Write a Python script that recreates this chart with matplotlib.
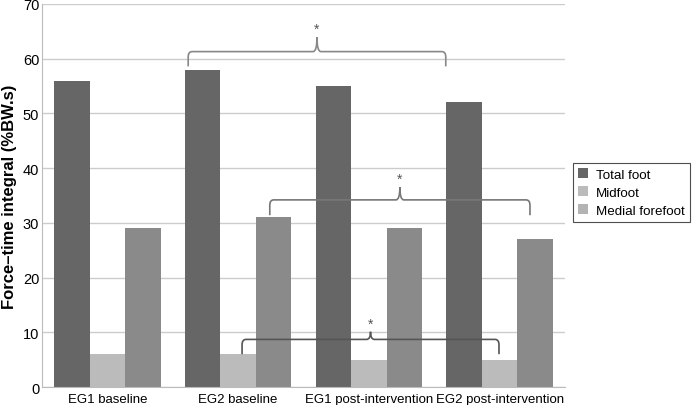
import matplotlib
matplotlib.use("Agg")
import matplotlib.pyplot as plt
from matplotlib.path import Path
from matplotlib.patches import PathPatch, Patch
import numpy as np

plt.rcParams["font.family"] = ["Liberation Sans", "DejaVu Sans"]

categories = ["EG1 baseline", "EG2 baseline", "EG1 post-intervention", "EG2 post-intervention"]
series_names = ["Total foot", "Midfoot", "Medial forefoot"]
total_foot = [56, 58, 55, 52]
midfoot = [6, 6, 5, 5]
medial_forefoot = [29, 31, 29, 27]
yticks = [0, 10, 20, 30, 40, 50, 60, 70]

bar_colors = ["#666666", "#bbbbbb", "#8a8a8a"]
legend_colors = ["#666666", "#bbbbbb", "#b3b3b3"]

fig = plt.figure(figsize=(6.92, 4.06), dpi=100)
ax = fig.add_axes([0.0607, 0.0443, 0.7558, 0.9434])

x = np.arange(len(categories))
w = 0.272
series = [total_foot, midfoot, medial_forefoot]
for i, (vals, c) in enumerate(zip(series, bar_colors)):
    ax.bar(x + (i - 1) * w, vals, width=w, color=c, edgecolor="none", zorder=2)

ax.set_xlim(-0.5, 3.5)
ax.set_ylim(0, 70)
ax.set_yticks(yticks)
ax.set_xticks(x)
ax.set_xticklabels(categories, fontsize=9.5)
ax.tick_params(axis="both", length=0)
ax.tick_params(axis="y", labelsize=10.5, pad=2)
ax.tick_params(axis="x", pad=4)
ax.yaxis.grid(True, color="#cccccc", linewidth=1.0, zorder=0)
ax.set_axisbelow(True)
for s in ["top", "right"]:
    ax.spines[s].set_visible(False)
ax.spines["left"].set_color("#bbbbbb")
ax.spines["bottom"].set_color("#bbbbbb")
ax.set_ylabel("Force–time integral (%BW.s)", fontsize=12, fontweight="bold")
ax.yaxis.set_label_coords(-0.047, 0.5)


def brace(x1, x2, y_low, y_h, bump, color, rx=0.03, ry=1.0):
    xc = (x1 + x2) / 2
    verts = [
        (x1, y_low), (x1, y_h - ry),
        (x1, y_h), (x1 + rx, y_h),
        (xc - rx, y_h),
        (xc, y_h), (xc, y_h + bump),
        (xc, y_h), (xc + rx, y_h),
        (x2 - rx, y_h),
        (x2, y_h), (x2, y_h - ry),
        (x2, y_low),
    ]
    codes = [Path.MOVETO, Path.LINETO,
             Path.CURVE3, Path.CURVE3,
             Path.LINETO,
             Path.CURVE3, Path.CURVE3,
             Path.CURVE3, Path.CURVE3,
             Path.LINETO,
             Path.CURVE3, Path.CURVE3,
             Path.LINETO]
    ax.add_patch(PathPatch(Path(verts, codes), fill=False, edgecolor=color, lw=1.2, zorder=3))
    ax.text(xc, y_h + bump + 0.2, "*", ha="center", va="bottom", fontsize=10, color="#555555", zorder=4)

# Total foot: EG2 baseline vs EG2 post-intervention
brace(x[1] - w - 0.11, x[3] - w - 0.14, 58.6, 61.3, 2.6, "#888888")
# Medial forefoot
brace(x[1] + w - 0.03, x[3] + w - 0.04, 31.4, 34.2, 2.3, "#777777")
# Midfoot
brace(x[1] + 0.03, x[3] - 0.005, 6.0, 8.7, 1.4, "#555555")

handles = [Patch(facecolor=c, edgecolor="none") for c in legend_colors]
leg = fig.legend(handles, series_names, loc="upper left", bbox_to_anchor=(573 / 692, 1 - 164 / 406),
                 fontsize=9.6, frameon=True, fancybox=False, edgecolor="#222222",
                 handlelength=0.7, handleheight=0.7, handletextpad=0.6, borderpad=0.4,
                 labelspacing=0.42, borderaxespad=0)
leg.get_frame().set_linewidth(0.8)

fig.savefig("out.png", dpi=100)
